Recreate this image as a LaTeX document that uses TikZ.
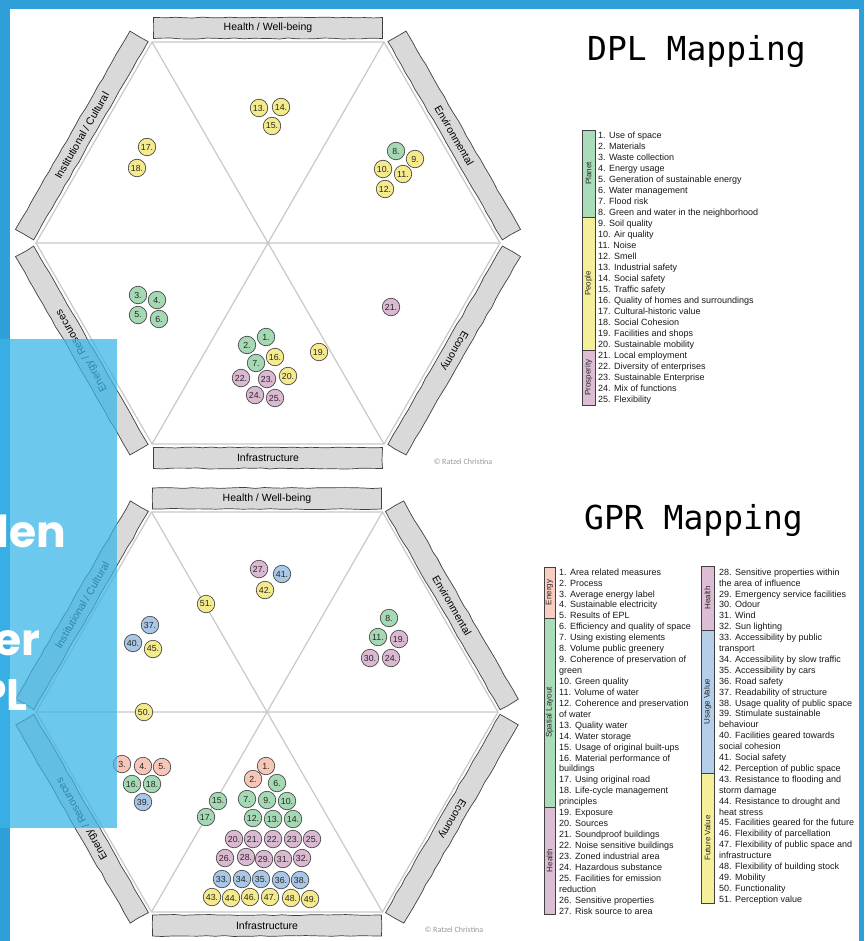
\documentclass[tikz,border=0pt]{standalone}
\usepackage{fontspec}
\setmainfont{Liberation Sans}
\newfontfamily\monof{DejaVu Sans Mono}
\newfontfamily\carlf{Carlito}
\newfontfamily\poppf{Poppins}
\usetikzlibrary{decorations.pathmorphing}
\definecolor{stripblue}{HTML}{2E9FD9}
\definecolor{ovblue}{HTML}{3BB5E8}
\definecolor{barfill}{HTML}{D9D9D9}
\definecolor{barline}{HTML}{404040}
\definecolor{hexgray}{HTML}{C9C9C9}
\definecolor{cG}{HTML}{A5D9B4}
\definecolor{cY}{HTML}{F5EB8C}
\definecolor{cP}{HTML}{DCB9D2}
\definecolor{cB}{HTML}{A9C7E6}
\definecolor{cS}{HTML}{F8C6B8}
\definecolor{lG}{HTML}{A9DCB8}
\definecolor{lY}{HTML}{F5EF9A}
\definecolor{lP}{HTML}{DCBDD3}
\definecolor{lB}{HTML}{B3CFE9}
\definecolor{lS}{HTML}{F9CDC0}
\newcommand\bb[4]{\node[bub,fill=#4] (#1#2) at (#3) {#2.};}
\begin{document}
\begin{tikzpicture}[x=1pt,y=-1pt,
  hexline/.style={draw=hexgray,line width=1.2pt},
  bar/.style={draw=barline,fill=barfill,line width=0.7pt,minimum width=229pt,minimum height=21pt,inner sep=0pt,
    font=\fontsize{10.5}{12}\selectfont,decorate,decoration={random steps,segment length=9pt,amplitude=0.5pt}},
  bub/.style={circle,draw=black!70,line width=0.7pt,minimum size=17.5pt,inner sep=0pt,text=black!85,
    font=\fontsize{8.8}{9}\selectfont},
  leg/.style={inner sep=0pt,anchor=base west,font=\fontsize{9}{10}\selectfont,text=black!90},
  legbox/.style={draw=barline,line width=0.6pt},
  leglab/.style={inner sep=0pt,rotate=90,font=\fontsize{8}{9}\selectfont,text=black!85},
  title/.style={inner sep=0pt,anchor=base west,font=\monof\fontsize{33}{36}\selectfont},
  copy/.style={inner sep=0pt,text=black!40,font=\carlf\fontsize{8}{9}\selectfont},
  ovtext/.style={inner sep=0pt,anchor=base east,text=white,font=\poppf\bfseries\fontsize{44}{48}\selectfont}
]
\useasboundingbox (0,0) rectangle (864,941);
\fill[white] (0,0) rectangle (864,941);
\fill[stripblue] (0,0) rectangle (864,9);
\fill[stripblue] (0,0) rectangle (10,941);
\fill[stripblue] (859,0) rectangle (864,941);

% ---------- top hexagon ----------
\coordinate (tc) at (268,243);
\coordinate (t0) at (500,243);
\coordinate (t1) at (384,42);
\coordinate (t2) at (152,42);
\coordinate (t3) at (36,243);
\coordinate (t4) at (152,444);
\coordinate (t5) at (384,444);
\draw[hexline] (t0)--(t1)--(t2)--(t3)--(t4)--(t5)--cycle;
\draw[hexline] (t0)--(t3) (t1)--(t4) (t2)--(t5);
\node[bar] (tb1) at (268,28) {Health / Well-being};
\node[bar,rotate=-60] (tb2) at (454.2,135.5) {Environmental};
\node[bar,rotate=-120] (tb3) at (454.2,350.5) {Economy};
\node[bar] (tb4) at (268,458) {Infrastructure};
\node[bar,rotate=120] (tb5) at (81.8,350.5) {Energy / Resources};
\node[bar,rotate=60] (tb6) at (81.8,135.5) {Institutional / Cultural};

\bb{d}{13}{259,108}{cY} \bb{d}{14}{281,107}{cY} \bb{d}{15}{272,126}{cY}
\bb{d}{17}{147,147}{cY} \bb{d}{18}{137,168}{cY}
\bb{d}{8}{396,151}{cG} \bb{d}{9}{415,159}{cY} \bb{d}{10}{383,169}{cY}
\bb{d}{11}{403,174}{cY} \bb{d}{12}{385,189}{cY}
\bb{d}{3}{138,295}{cG} \bb{d}{4}{157,300}{cG} \bb{d}{5}{138,315}{cG} \bb{d}{6}{159,319}{cG}
\bb{d}{21}{391,307}{cP}
\bb{d}{1}{266,337}{cG} \bb{d}{2}{247,345}{cG} \bb{d}{7}{256,363}{cG}
\bb{d}{16}{275,357}{cY} \bb{d}{19}{319,352}{cY} \bb{d}{20}{288,376}{cY}
\bb{d}{22}{241,378}{cP} \bb{d}{23}{267,379}{cP} \bb{d}{24}{255,395}{cP} \bb{d}{25}{275,398}{cP}

\node[copy] (cp1) at (463,462) {© Ratzel Christina};

% ---------- bottom hexagon ----------
\coordinate (bc) at (267,712);
\coordinate (b0) at (498,712);
\coordinate (b1) at (382.5,512);
\coordinate (b2) at (151.5,512);
\coordinate (b3) at (36,712);
\coordinate (b4) at (151.5,912);
\coordinate (b5) at (382.5,912);
\draw[hexline] (b0)--(b1)--(b2)--(b3)--(b4)--(b5)--cycle;
\draw[hexline] (b0)--(b3) (b1)--(b4) (b2)--(b5);
\node[bar] (bb1) at (267,498.5) {Health / Well-being};
\node[bar,rotate=-60] (bb2) at (451.9,605.3) {Environmental};
\node[bar,rotate=-120] (bb3) at (451.9,818.7) {Economy};
\node[bar] (bb4) at (267,925.5) {Infrastructure};
\node[bar,rotate=120] (bb5) at (82.1,818.7) {Energy / Resources};
\node[bar,rotate=60] (bb6) at (82.1,605.3) {Institutional / Cultural};

\bb{g}{27}{259,569}{cP} \bb{g}{41}{282,574}{cB} \bb{g}{42}{265,590}{cY}
\bb{g}{51}{206,604}{cY}
\bb{g}{37}{150,625}{cB} \bb{g}{40}{133,643}{cB} \bb{g}{45}{153,649}{cY}
\bb{g}{50}{144,712}{cY}
\bb{g}{8}{389,618}{cG} \bb{g}{11}{378,637}{cG} \bb{g}{19}{399,639}{cP}
\bb{g}{30}{370,658}{cP} \bb{g}{24}{391,658}{cP}
\bb{g}{3}{122,764}{cS} \bb{g}{4}{143,766}{cS} \bb{g}{5}{162,767}{cS}
\bb{g}{16}{132,784}{cG} \bb{g}{18}{152,784}{cG} \bb{g}{39}{143,802}{cB}
\bb{g}{1}{266,766}{cS} \bb{g}{2}{253,779}{cS} \bb{g}{6}{277,783}{cG}
\bb{g}{15}{218,801}{cG} \bb{g}{7}{247,799}{cG} \bb{g}{9}{267,800}{cG} \bb{g}{10}{287,801}{cG}
\bb{g}{17}{206,817}{cG} \bb{g}{12}{253,818}{cG} \bb{g}{13}{273,819}{cG} \bb{g}{14}{293,819}{cG}
\bb{g}{20}{234,839}{cP} \bb{g}{21}{253,839}{cP} \bb{g}{22}{273,839}{cP} \bb{g}{23}{293,839}{cP} \bb{g}{25}{312,839}{cP}
\bb{g}{26}{225,858}{cP} \bb{g}{28}{246,857}{cP} \bb{g}{29}{264,859}{cP} \bb{g}{31}{283,859}{cP} \bb{g}{32}{302,858}{cP}
\bb{g}{33}{222,879}{cB} \bb{g}{34}{242,879}{cB} \bb{g}{35}{261,879}{cB} \bb{g}{36}{281,880}{cB} \bb{g}{38}{300,880}{cB}
\bb{g}{43}{212,897}{cY} \bb{g}{44}{231,898}{cY} \bb{g}{46}{250,897}{cY} \bb{g}{47}{270,897}{cY} \bb{g}{48}{291,898}{cY} \bb{g}{49}{310,899}{cY}

\node[copy] (cp2) at (454,930) {© Ratzel Christina};

% ---------- DPL legend ----------
\node[title] (ttl1) at (587,61) {DPL Mapping};
\draw[legbox,fill=lG] (582,130) rectangle (595,217);
\draw[legbox,fill=lY] (582,217) rectangle (595,350);
\draw[legbox,fill=lP] (582,350) rectangle (595,405);
\node[leglab] (lpl) at (588.5,173.5) {Planet};
\node[leglab] (lpe) at (588.5,283.5) {People};
\node[leglab] (lpr) at (588.5,377.5) {Prosperity};
\foreach \t [count=\i] in {1. Use of space,2. Materials,3. Waste collection,4. Energy usage,
 5. Generation of sustainable energy,6. Water management,7. Flood risk,
 8. Green and water in the neighborhood,9. Soil quality,10. Air quality,11. Noise,12. Smell,
 13. Industrial safety,14. Social safety,15. Traffic safety,16. Quality of homes and surroundings,
 17. Cultural-historic value,18. Social Cohesion,19. Facilities and shops,20. Sustainable mobility,
 21. Local employment,22. Diversity of enterprises,23. Sustainable Enterprise,24. Mix of functions,
 25. Flexibility}
 \node[leg] (da\i) at (598,{138.2+(\i-1)*11}) {\t};

% ---------- GPR legend ----------
\node[title] (ttl2) at (584,529) {GPR Mapping};
\draw[legbox,fill=lS] (544,567) rectangle (555,618);
\draw[legbox,fill=lG] (544,618) rectangle (555,807);
\draw[legbox,fill=lP] (544,807) rectangle (555,914);
\node[leglab] (len) at (549.5,592.5) {Energy};
\node[leglab] (lsp) at (549.5,712.5) {Spatial Layout};
\node[leglab] (lhe) at (549.5,860.5) {Health};
\draw[legbox,fill=lP] (701,566) rectangle (714,630);
\draw[legbox,fill=lB] (701,630) rectangle (714,773);
\draw[legbox,fill=lY] (701,773) rectangle (714,903);
\node[leglab] (lhe2) at (707.5,598) {Health};
\node[leglab] (lus) at (707.5,701.5) {Usage Value};
\node[leglab] (lfu) at (707.5,838) {Future Value};
\foreach \t [count=\i] in {1. Area related measures,2. Process,3. Average energy label,
 4. Sustainable electricity,5. Results of EPL,6. Efficiency and quality of space,
 7. Using existing elements,8. Volume public greenery,9. Coherence of preservation of,green,
 10. Green quality,11. Volume of water,12. Coherence and preservation,of water,13. Quality water,
 14. Water storage,15. Usage of original built-ups,16. Material performance of,buildings,
 17. Using original road,18. Life-cycle management,principles,19. Exposure,20. Sources,
 21. Soundproof buildings,22. Noise sensitive buildings,23. Zoned industrial area,
 24. Hazardous substance,25. Facilities for emission,reduction,26. Sensitive properties,
 27. Risk source to area}
 \node[leg] (ga\i) at (559,{575.2+(\i-1)*10.93}) {\t};
\foreach \t [count=\i] in {28. Sensitive properties within,the area of influence,
 29. Emergency service facilities,30. Odour,31. Wind,32. Sun lighting,33. Accessibility by public,
 transport,34. Accessibility by slow traffic,35. Accessibility by cars,36. Road safety,
 37. Readability of structure,38. Usage quality of public space,39. Stimulate sustainable,behaviour,
 40. Facilities geared towards,social cohesion,41. Social safety,42. Perception of public space,
 43. Resistance to flooding and,storm damage,44. Resistance to drought and,heat stress,
 45. Facilities geared for the future,46. Flexibility of parcellation,
 47. Flexibility of public space and,infrastructure,48. Flexibility of  building stock,
 49. Mobility,50. Functionality,51. Perception value}
 \node[leg] (gb\i) at (719,{575.2+(\i-1)*10.9}) {\t};

% ---------- overlay ----------
\fill[ovblue,opacity=0.74] (0,339) rectangle (117,828);
\node[ovtext] (ov1) at (66,547) {den};
\node[ovtext] (ov2) at (41,655) {er};
\node[ovtext] (ov3) at (28,710) {PL};
\end{tikzpicture}
\end{document}
